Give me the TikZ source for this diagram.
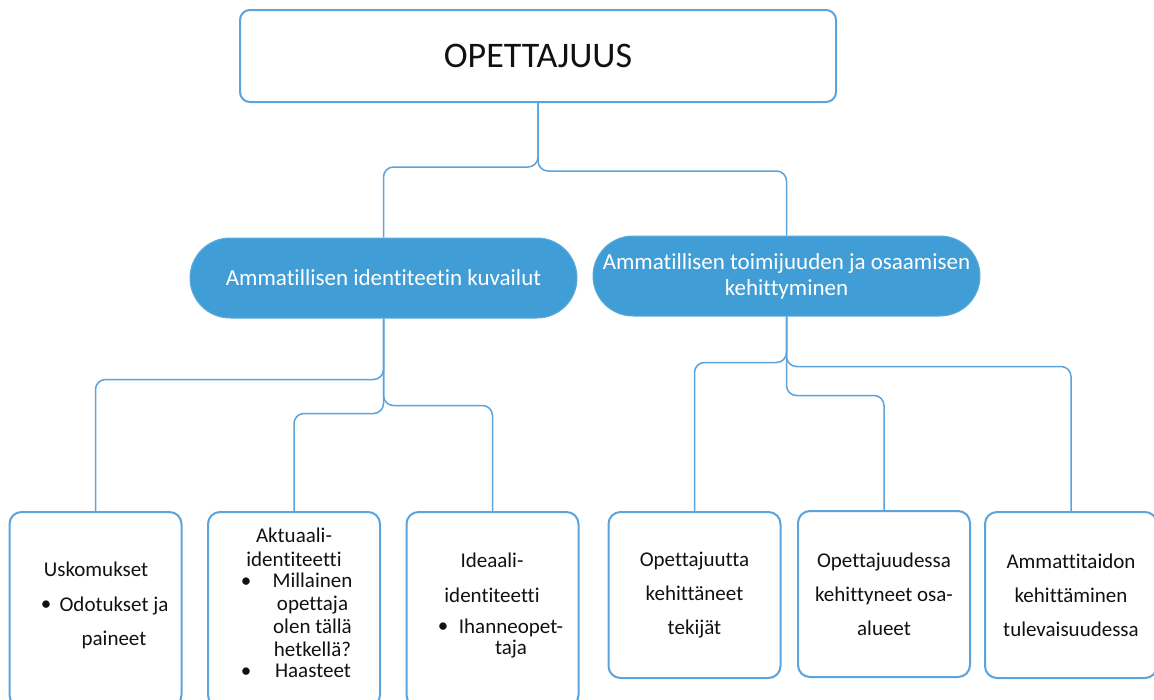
\documentclass[tikz,border=0pt]{standalone}
\usepackage{fontspec}
\setmainfont{Carlito}[Ligatures={NoCommon}]
\usepackage{xcolor}
\usepackage{tikz}
\usetikzlibrary{positioning}
\definecolor{linec}{HTML}{5BA3DC}
\definecolor{pillc}{HTML}{419DD5}
\definecolor{inkc}{HTML}{111111}
\tikzset{
  ln/.style={draw=linec,line width=1.5pt,rounded corners=10pt},
  topb/.style={draw=linec,line width=2pt,rounded corners=10pt,minimum width=596pt,minimum height=92pt,text=inkc,font=\fontsize{36}{40}\selectfont},
  pill/.style={fill=pillc,draw=pillc!85!white,line width=1pt,rounded corners=40pt,minimum width=387pt,minimum height=80pt,text=white,align=center,font=\fontsize{23}{26}\selectfont},
  leaf/.style={draw=linec,line width=2pt,rounded corners=12pt,minimum width=172pt,minimum height=166pt,align=center,text=inkc,font=\fontsize{21}{34}\selectfont},
  txt/.style={align=center,inner sep=0pt,text=inkc,font=\fontsize{21}{34}\selectfont}
}

\begin{document}
\begin{tikzpicture}[x=1pt,y=-1pt]
\useasboundingbox (0,0) rectangle (1154,699);
\clip (0,0) rectangle (1154,699);
% top and middle level
\node[topb] (top) at (538,56) {OPETTAJUUS};
\node[pill] (lpill) at (383.5,278) {Ammatillisen identiteetin kuvailut};
\node[pill] (rpill) at (786.5,276) {Ammatillisen toimijuuden ja osaamisen\\kehittyminen};
% bottom boxes
\node[leaf,minimum height=195pt] (usko) at (95.5,609.5) {};
\node[leaf,minimum height=195pt] (aktu) at (294,609.5) {};
\node[leaf,minimum height=195pt] (idea) at (492.5,609.5) {};
\node[leaf] (tekij) at (694.5,595) {Opettajuutta\\kehittäneet\\tekijät};
\node[leaf] (osaal) at (884,594) {Opettajuudessa\\kehittyneet osa-\\alueet};
\node[leaf] (tulev) at (1071,595) {Ammattitaidon\\kehittäminen\\tulevaisuudessa};
% texts of the left boxes
\node[txt] (usko-h) at (96,569.5) {Uskomukset};
\node[txt] (usko-d) at (46,606) {\textbullet};
\node[txt] (usko-b) at (114,623) {Odotukset ja\\paineet};
\node[txt,font=\fontsize{21}{24}\selectfont] (aktu-h) at (294,547.5) {Aktuaali-\\identiteetti};
\node[txt] (aktu-d1) at (246,583) {\textbullet};
\node[txt,font=\fontsize{21}{23}\selectfont] (aktu-b1) at (312.5,615) {Millainen\\opettaja\\olen tällä\\hetkellä?};
\node[txt] (aktu-d2) at (246,673) {\textbullet};
\node[txt] (aktu-b2) at (313,670.5) {Haasteet};
\node[txt,font=\fontsize{21}{35}\selectfont] (idea-h) at (492,578) {Ideaali-\\identiteetti};
\node[txt] (idea-d) at (443,628) {\textbullet};
\node[txt,font=\fontsize{21}{21}\selectfont] (idea-b) at (511,638.5) {Ihanneopet-\\taja};
% connectors
\draw[ln] (top.south) -- ++(0,64) -| (lpill.north);
\draw[ln] (top.south) -- ++(0,68) -| (rpill.north);
\draw[ln] (lpill.south) -- ++(0,61) -| (usko.north);
\draw[ln] (lpill.south) -- ++(0,95) -| (aktu.north);
\draw[ln] (lpill.south) -- ++(0,87) -| (idea.north);
\draw[ln] (rpill.south) -- ++(0,46) -| (tekij.north);
\draw[ln] (rpill.south) -- ++(0,79) -| (osaal.north);
\draw[ln] (rpill.south) -- ++(0,50) -| (tulev.north);
\end{tikzpicture}
\end{document}
